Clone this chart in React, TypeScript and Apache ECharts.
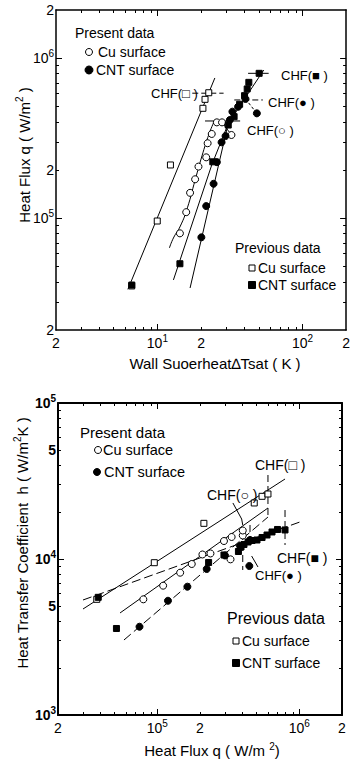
import React, { useEffect, useRef } from 'react';
import * as echarts from 'echarts';

// ---------- Top chart: Wall superheat ΔTsat (K) vs heat flux q (W/m²) ----------
const topPrevCu = [[6.65, 3.77e4], [9.98, 9.6e4], [12.3, 2.15e5], [20.6, 4.86e5], [21.3, 5.53e5], [22.6, 6.08e5]];
const topPrevCnt = [[6.66, 3.82e4], [14.3, 5.19e4], [24.1, 2.25e5], [30.8, 3.82e5], [33.8, 4.31e5], [36.9, 5.15e5], [39.9, 5.83e5], [41.6, 6.42e5], [42.7, 7.06e5], [50.3, 8.04e5]];
const topPresCu = [[14.3, 8.04e4], [15.8, 1.09e5], [16.8, 1.44e5], [18.2, 1.75e5], [19.2, 2.1e5], [21.7, 2.4e5], [22.2, 2.94e5], [23.7, 3.36e5], [25.7, 3.97e5], [27.9, 3.97e5], [32.4, 3.31e5]];
const topPresCnt = [[20.1, 7.59e4], [21.7, 1.19e5], [24.4, 1.64e5], [25.7, 2.24e5], [27.7, 2.98e5], [29.5, 3.26e5], [31.6, 4.11e5], [32.9, 4.63e5], [36.0, 4.97e5], [40.5, 5.56e5], [48.5, 4.52e5]];
const topFitPrevCu = [[6.26, 3.59e4], [24.9, 7.52e5]];
const topFitPrevCnt = [[12.9, 4.11e4], [23.7, 2.15e5], [30.9, 3.93e5], [54.1, 8.43e5]];
const topFitPresCnt = [[16.8, 3.66e4], [31.4, 4.23e5]];
const topFitPresCu = [[12.1, 6.51e4], [12.9, 7.52e4], [14.4, 8.93e4], [16.1, 1.16e5], [18.2, 1.73e5], [20.3, 2.45e5], [22.7, 3.36e5], [24.9, 4.11e5]];
const topChfPrevCnt = [[42.2, 8.04e5], [58.5, 8.04e5]];
const topChfPresCnt = [[33.9, 5.48e5], [53.3, 5.48e5]];
const topChfPresCu = [[21.3, 4.05e5], [37.2, 4.05e5]];
const topChfPrevCu = [[17.4, 6.04e5], [28.6, 6.04e5]];
const topLinkPresCnt = [[40.5, 5.56e5], [48.5, 4.52e5]];
const topLinkPresCu = [[27.9, 3.97e5], [32.4, 3.31e5]];

const topXLabels = [2, 10, 20, 100, 200];
const topXMajor = [10, 100];
const topXMinor = [3, 4, 5, 6, 7, 8, 9, 20, 30, 40, 50, 60, 70, 80, 90];
const topYLabels = [2e4, 1e5, 2e5, 1e6, 2e6];
const topYMajor = [1e5, 1e6];
const topYMinor = [3e4, 4e4, 5e4, 6e4, 7e4, 8e4, 9e4, 2e5, 3e5, 4e5, 5e5, 6e5, 7e5, 8e5, 9e5];

// ---------- Bottom chart: heat flux q (W/m²) vs heat transfer coefficient h (W/m²K) ----------
const botPrevCu = [[3.75e4, 5515], [9.53e4, 9470], [2.13e5, 16930], [4.82e5, 22860], [5.47e5, 25220], [6.02e5, 26100]];
const botPrevCnt = [[3.84e4, 5680], [5.16e4, 3585], [2.3e5, 9500], [2.95e5, 10610], [3.73e5, 11170], [3.89e5, 11940], [4.08e5, 12390], [4.36e5, 12850], [4.65e5, 13140], [5.04e5, 13240], [5.47e5, 13730], [5.93e5, 14250], [6.43e5, 14900], [7.03e5, 15460], [7.94e5, 15350]];
const botPresCu = [[7.98e4, 5515], [1.1e5, 6745], [1.45e5, 8170], [1.75e5, 9290], [2.08e5, 10690], [2.37e5, 10850], [2.95e5, 13040], [3.34e5, 13840], [4.0e5, 14150], [4.0e5, 15230], [3.28e5, 9950]];
const botPresCnt = [[7.5e4, 3680], [1.19e5, 5400], [1.63e5, 6645], [2.23e5, 8630], [3.0e5, 10530], [3.83e5, 12120], [4.5e5, 13240], [4.45e5, 9020]];
const botFitPrevCu = [[3.0e4, 4780], [7.94e5, 32570]];
const botFitPrevCnt = [[3.0e4, 5460], [1.01e6, 17270]];
const botFitPresCu = [[5.47e4, 4510], [6.02e5, 21230]];
const botFitPresCnt = [[5.83e4, 3026], [6.02e5, 18580]];
const botChfPrevCu = [[6.02e5, 34550], [6.02e5, 18580]];
const botChfPrevCnt = [[7.94e5, 20600], [7.94e5, 12300]];
const botChfPresCu = [[4.0e5, 14680], [4.0e5, 8500]];
const botChfPresCnt = [[4.5e5, 16520], [4.5e5, 12850]];
const botLeadPresCu = [[3.41e5, 22860], [3.93e5, 18040], [4.0e5, 16520]];
const botLeadPresCnt = [[4.62e5, 10450], [5.12e5, 8890]];

const botXLabels = [2e4, 1e5, 2e5, 1e6, 2e6];
const botXMajor = [1e5, 1e6];
const botXMinor = [3e4, 4e4, 5e4, 6e4, 7e4, 8e4, 9e4, 2e5, 3e5, 4e5, 5e5, 6e5, 7e5, 8e5, 9e5];
const botYLabels = [1e3, 5e3, 1e4, 5e4, 1e5];
const botYMajor = [1e4];
const botYMinor = [2e3, 3e3, 4e3, 5e3, 6e3, 7e3, 8e3, 9e3, 2e4, 3e4, 4e4, 5e4, 6e4, 7e4, 8e4, 9e4];

const FONT = '"Liberation Sans", Arial, Helvetica, sans-serif';

function fmt(v: number) {
  const e = Math.log10(v);
  const r = Math.round(e);
  if (Math.abs(e - r) < 1e-6) return `{a|10}{b|${r}}`;
  const m = Math.round(v / Math.pow(10, Math.floor(e + 1e-9)));
  return `{a|${m}}`;
}

const richFor = (size: number, bold: boolean) => ({
  a: { fontSize: size, lineHeight: 20, fontFamily: FONT, color: '#000', fontWeight: bold ? 'bold' : 'normal' },
  b: { fontSize: size - 4, lineHeight: 10, verticalAlign: 'top', fontFamily: FONT, color: '#000', fontWeight: bold ? 'bold' : 'normal' },
});

const base = (gi: number, pos: string, min: number, max: number) => ({
  type: 'log', logBase: 10, gridIndex: gi, position: pos, min, max,
  splitLine: { show: false }, minorTick: { show: false }, minorSplitLine: { show: false },
});

const major = (gi: number, pos: string, min: number, max: number, ticks: number[], labels: number[] | null, lw: number, margin: number, size: number, bold: boolean) => ({
  ...base(gi, pos, min, max),
  axisLine: { show: true, onZero: false, lineStyle: { color: '#000', width: lw } },
  axisTick: { show: true, inside: true, length: 6, customValues: ticks, lineStyle: { color: '#000', width: 1 } },
  axisLabel: labels
    ? { show: true, customValues: labels, formatter: fmt, margin, rich: richFor(size, bold) }
    : { show: false },
});

const minor = (gi: number, pos: string, min: number, max: number, ticks: number[]) => ({
  ...base(gi, pos, min, max),
  axisLine: { show: false },
  axisTick: { show: true, inside: true, length: 3, customValues: ticks, lineStyle: { color: '#000', width: 1 } },
  axisLabel: { show: false },
});

const lineS = (data: number[][], xi: number, yi: number, type: any = 'solid', smooth = false) => ({
  type: 'line', xAxisIndex: xi, yAxisIndex: yi, data, symbol: 'none', silent: true, smooth,
  lineStyle: { color: '#000', width: 1, type }, z: 2,
});

const scat = (data: number[][], xi: number, yi: number, symbol: string, filled: boolean, size: number) => ({
  type: 'scatter', xAxisIndex: xi, yAxisIndex: yi, data, symbol, symbolSize: size, silent: true,
  itemStyle: { color: filled ? '#000' : '#fff', borderColor: '#000', borderWidth: 1, opacity: 1 }, z: 3,
});

const txt = (text: string, x: number, y: number, size: number, opts: any = {}) => ({
  type: 'text', x, y, z: 10, rotation: opts.rotation || 0,
  style: {
    text, fontSize: size, fontFamily: FONT, fill: '#000', fontWeight: opts.bold ? 'bold' : 'normal',
    textAlign: opts.align || 'left', textVerticalAlign: opts.valign || 'middle',
    lineHeight: opts.lineHeight, rich: opts.rich,
  },
});

const dot = (cx: number, cy: number, r: number, filled: boolean) => ({
  type: 'circle', shape: { cx, cy, r }, z: 10,
  style: { fill: filled ? '#000' : '#fff', stroke: '#000', lineWidth: 1 },
});
const sq = (cx: number, cy: number, s: number, filled: boolean) => ({
  type: 'rect', shape: { x: cx - s / 2, y: cy - s / 2, width: s, height: s }, z: 10,
  style: { fill: filled ? '#000' : '#fff', stroke: '#000', lineWidth: 1 },
});

export default function App() {
  const ref = useRef<HTMLDivElement>(null);
  useEffect(() => {
    if (!ref.current) return;
    const chart = echarts.init(ref.current, null, { renderer: 'svg' });
    const supRich = { s: { fontSize: 10, lineHeight: 10, verticalAlign: 'top', fontFamily: FONT, fill: '#000', color: '#000' } };
    const option: any = {
      animation: false,
      backgroundColor: '#fff',
      grid: [
        { left: 56, top: 10, width: 296, height: 320 },
        { left: 58, top: 403, width: 284, height: 312 },
      ],
      xAxis: [
        major(0, 'bottom', 2, 200, topXMajor, topXLabels, 1.5, 3, 14, false),
        minor(0, 'bottom', 2, 200, topXMinor),
        major(0, 'top', 2, 200, topXMajor, null, 1.5, 0, 14, false),
        minor(0, 'top', 2, 200, topXMinor),
        major(1, 'bottom', 2e4, 2e6, botXMajor, botXLabels, 2, 3, 14, false),
        minor(1, 'bottom', 2e4, 2e6, botXMinor),
        major(1, 'top', 2e4, 2e6, botXMajor, null, 2, 0, 14, false),
        minor(1, 'top', 2e4, 2e6, botXMinor),
      ],
      yAxis: [
        major(0, 'left', 2e4, 2e6, topYMajor, topYLabels, 1.5, 2, 14, false),
        minor(0, 'left', 2e4, 2e6, topYMinor),
        major(0, 'right', 2e4, 2e6, topYMajor, null, 1.5, 0, 14, false),
        minor(0, 'right', 2e4, 2e6, topYMinor),
        major(1, 'left', 1e3, 1e5, botYMajor, botYLabels, 2, 2, 14, true),
        minor(1, 'left', 1e3, 1e5, botYMinor),
        major(1, 'right', 1e3, 1e5, botYMajor, null, 2, 0, 14, true),
        minor(1, 'right', 1e3, 1e5, botYMinor),
      ],
      series: [
        // top chart
        lineS(topFitPrevCu, 0, 0),
        lineS(topFitPrevCnt, 0, 0),
        lineS(topFitPresCnt, 0, 0),
        lineS(topFitPresCu, 0, 0, 'solid', true),
        lineS(topChfPrevCnt, 0, 0),
        lineS(topChfPresCnt, 0, 0, [6, 3]),
        lineS(topChfPresCu, 0, 0),
        lineS(topChfPrevCu, 0, 0, [6, 3]),
        lineS(topLinkPresCnt, 0, 0, [3, 2]),
        lineS(topLinkPresCu, 0, 0),
        scat(topPrevCu, 0, 0, 'rect', false, 6),
        scat(topPresCu, 0, 0, 'circle', false, 7),
        scat(topPrevCnt, 0, 0, 'rect', true, 6),
        scat(topPresCnt, 0, 0, 'circle', true, 7),
        // bottom chart
        lineS(botFitPrevCu, 4, 4),
        lineS(botFitPrevCnt, 4, 4, [9, 4]),
        lineS(botFitPresCu, 4, 4),
        lineS(botFitPresCnt, 4, 4, [9, 4]),
        lineS(botChfPrevCu, 4, 4, [7, 4]),
        lineS(botChfPrevCnt, 4, 4, [7, 4]),
        lineS(botChfPresCu, 4, 4, [7, 4]),
        lineS(botChfPresCnt, 4, 4, [7, 4]),
        lineS(botLeadPresCu, 4, 4),
        lineS(botLeadPresCnt, 4, 4),
        scat(botPrevCu, 4, 4, 'rect', false, 6),
        scat(botPresCu, 4, 4, 'circle', false, 7),
        scat(botPrevCnt, 4, 4, 'rect', true, 6),
        scat(botPresCnt, 4, 4, 'circle', true, 7),
      ],
      graphic: [
        // top chart legend
        txt('Present data', 75, 33, 14),
        dot(89, 52, 3.5, false), txt('Cu surface', 98, 52, 14),
        dot(89, 70, 4, true), txt('CNT surface', 96, 70, 14),
        txt('Previous data', 235, 248, 14),
        sq(252, 268, 6, false), txt('Cu surface', 258, 268, 14),
        sq(252, 285, 7, true), txt('CNT surface', 258, 285, 14),
        // top CHF labels
        txt('CHF(■ )', 281, 75, 13),
        txt('CHF(● )', 268, 102, 13),
        txt('CHF(○ )', 247, 130, 13),
        txt('CHF(□ )', 151, 93, 13),
        // top axis titles
        txt('Heat Flux q ( W/m{s|2} )', 24, 155, 15, { align: 'center', rotation: Math.PI / 2, rich: supRich, lineHeight: 20 }),
        txt('Wall Suoerheat∆Tsat ( K )', 215, 363, 15, { align: 'center' }),
        // bottom chart legend
        txt('Present data', 80, 432, 15),
        dot(98, 450, 3.5, false), txt('Cu surface', 103, 450, 14.5),
        dot(97, 472, 3.5, true), txt('CNT surface', 104, 472, 14.5),
        txt('Previous data', 227, 618, 16),
        sq(236, 641, 6, false), txt('Cu surface', 242, 641, 14),
        sq(236, 663, 7, true), txt('CNT surface', 242, 663, 14),
        // bottom CHF labels
        txt('CHF(□ )', 255, 465, 14),
        txt('CHF(○ )', 207, 495, 14),
        txt('CHF(■ )', 277, 558, 14),
        txt('CHF(● )', 255, 575, 13),
        // bottom axis titles
        txt('Heat Transfer Coefficient  h ( W/m{s|2}K )', 22, 543, 15, { align: 'center', rotation: Math.PI / 2, rich: supRich, lineHeight: 20 }),
        txt('Heat Flux q ( W/m {s|2})', 212, 750, 15, { align: 'center', valign: 'middle', rich: supRich, lineHeight: 18 }),
      ],
    };
    chart.setOption(option);
    return () => chart.dispose();
  }, []);
  return <div ref={ref} style={{ position: 'fixed', left: 0, top: 0, width: 353, height: 760, background: '#fff' }} />;
}
